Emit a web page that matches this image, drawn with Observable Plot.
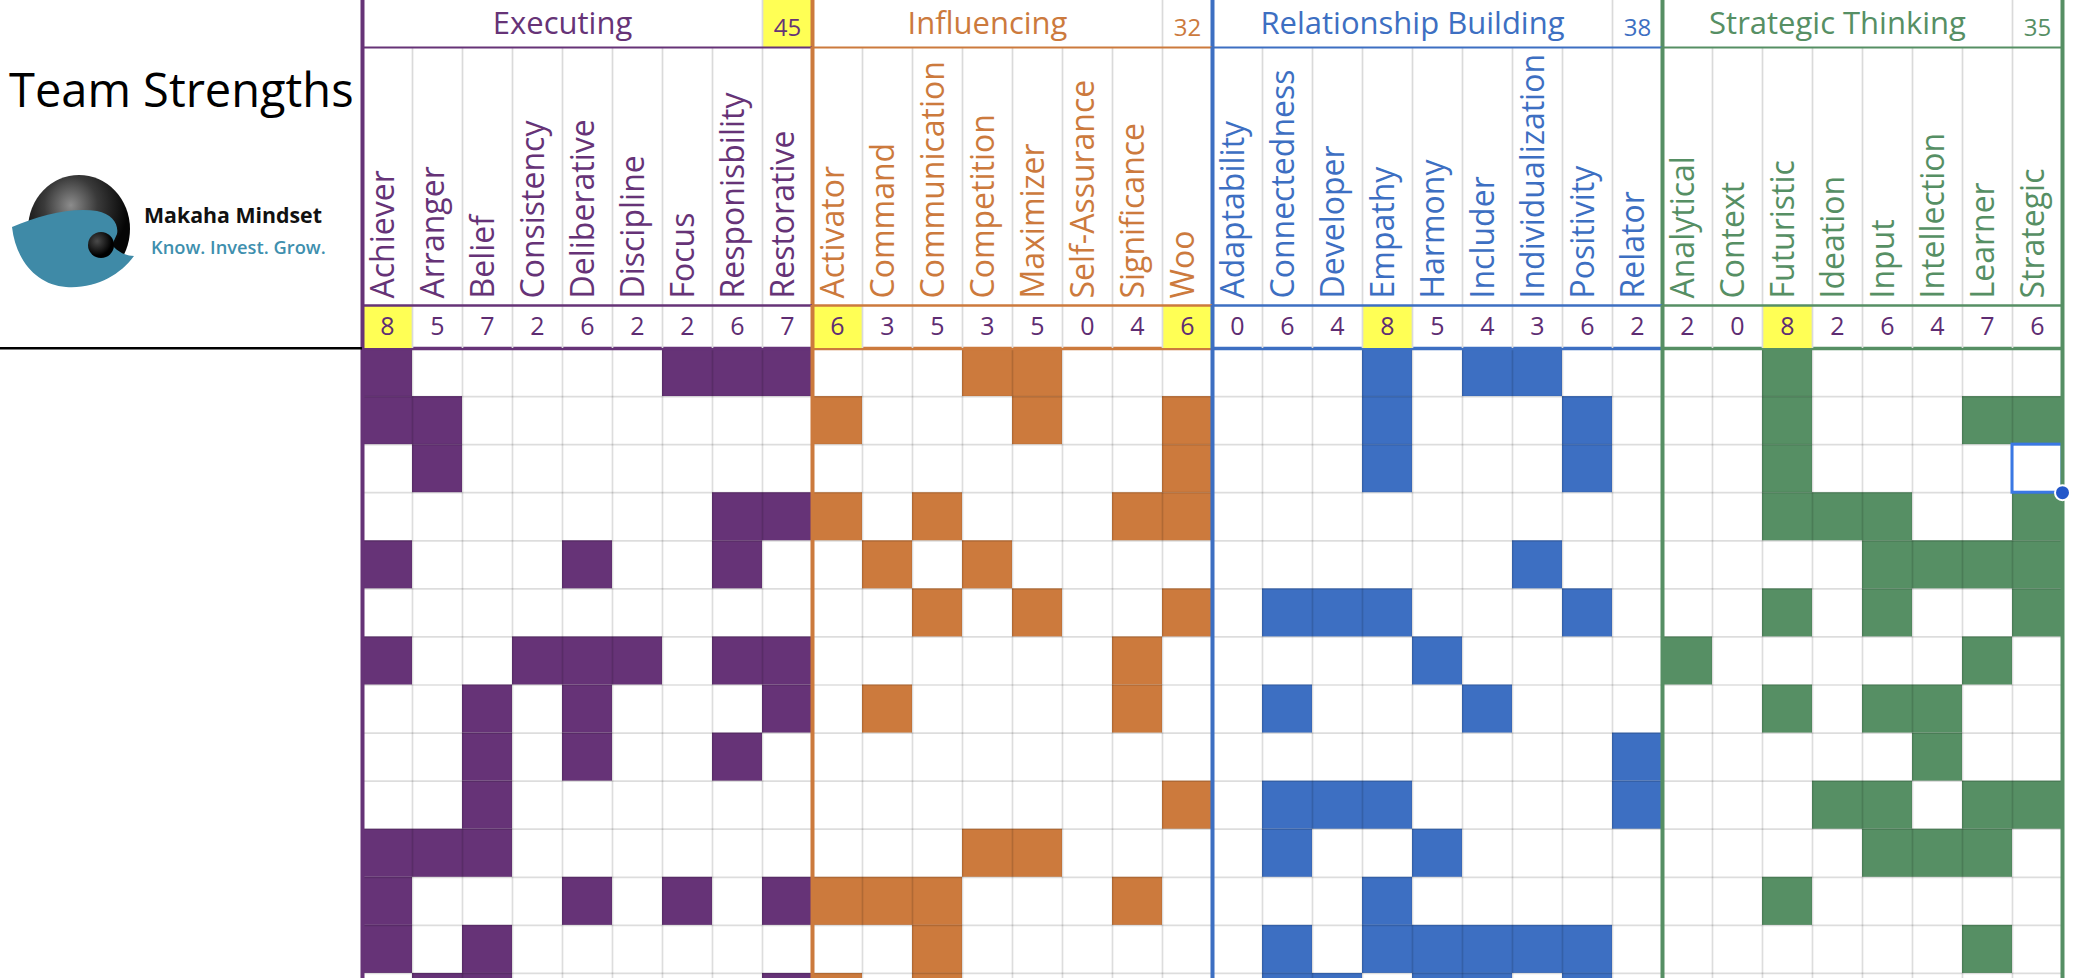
<!DOCTYPE html>
<html><head><meta charset="utf-8">
<script src="https://cdn.jsdelivr.net/npm/d3@7"></script>
<script src="https://cdn.jsdelivr.net/npm/@observablehq/plot@0.6"></script>
<style>
html,body{margin:0;padding:0;overflow:hidden;background:#fff;}
#page{position:relative;width:2074px;height:978px;overflow:hidden;background:#fff;font-family:"Open Sans",sans-serif;}
</style></head><body><div id="page"></div>
<script>
// ---------- data ----------
const groupNames = ["Executing", "Influencing", "Relationship Building", "Strategic Thinking"];
const groupColors = ["#663377", "#cc7a3d", "#3d6fc2", "#568f64"];
const groupTotals = [45, 32, 38, 35];

const executing = ["Achiever","Arranger","Belief","Consistency","Deliberative","Discipline","Focus","Responisbility","Restorative"];
const influencing = ["Activator","Command","Communication","Competition","Maximizer","Self-Assurance","Significance","Woo"];
const relationship = ["Adaptability","Connectedness","Developer","Empathy","Harmony","Includer","Individualization","Positivity","Relator"];
const strategic = ["Analytical","Context","Futuristic","Ideation","Input","Intellection","Learner","Strategic"];

const executingCounts = [8,5,7,2,6,2,2,6,7];
const influencingCounts = [6,3,5,3,5,0,4,6];
const relationshipCounts = [0,6,4,8,5,4,3,6,2];
const strategicCounts = [2,0,8,2,6,4,7,6];

// one string per team member (row), one character per strength: 1 = in top strengths
const executingRows = ["100000111","110000000","010000000","000000011","100010010","000000000","100111011","001010001","001010010","001000000","111000000","100010101","101000000","011000001"];
const influencingRows = ["00011000","10001001","00000001","10100011","01010000","00101001","00000010","01000010","00000000","00000001","00011000","11100010","00100000","10100000"];
const relationshipRows = ["000101100","000100010","000100010","000000000","000000100","011100010","000010000","010001000","000000001","011100001","010010000","000100000","010111110","011011010"];
const strategicRows = ["00100000","00100011","00100000","00111001","00001111","00101001","10000010","00101100","00000100","00011011","00001110","00100000","00000010","00000000"];

const selectedCell = {strength: "Strategic", row: 3};

// ---------- derived tables ----------
const groupLists = [executing, influencing, relationship, strategic];
const countLists = [executingCounts, influencingCounts, relationshipCounts, strategicCounts];
const rowLists = [executingRows, influencingRows, relationshipRows, strategicRows];
let acc = 0;
const groups = groupLists.map((names, g) => {
  const o = {name: groupNames[g], color: groupColors[g], start: acc, end: acc + names.length, total: groupTotals[g]};
  acc += names.length; return o;
});
const N = acc;
const columns = groups.flatMap((gr, g) => groupLists[g].map((name, k) => ({
  name, i: gr.start + k, color: gr.color, count: countLists[g][k], top: countLists[g][k] === d3.max(countLists[g])
})));
const cells = [];
groups.forEach((gr, g) => rowLists[g].forEach((s, r) => [...s].forEach((c, k) => {
  if (c === "1") cells.push({i: gr.start + k, row: r, color: gr.color});
})));
const nRows = executingRows.length;
const boundaries = groups.map(g => ({x: g.start, color: g.color})).concat([{x: N, color: groups[groups.length - 1].color}]);
const inner = d3.range(1, N);
const selIndex = columns.find(c => c.name === selectedCell.strength).i;

const page = document.getElementById("page");
const font = "'Open Sans', sans-serif";

function band(top, height, ydomain, marks) {
  const svg = Plot.plot({
    width: 2074, height, marginLeft: 362, marginRight: 12, marginTop: 0, marginBottom: 0,
    x: {domain: [0, N], axis: null},
    y: {domain: ydomain, axis: null, reverse: true},
    color: {type: "identity"},
    style: {background: "transparent", overflow: "visible", fontFamily: font},
    marks
  });
  svg.style.position = "absolute"; svg.style.left = "0px"; svg.style.top = top + "px";
  page.appendChild(svg);
}
const bounds = () => Plot.ruleX(boundaries, {x: "x", stroke: "color", strokeWidth: 4});

// data grid (drawn first, so header bands sit above)
band(348.2, 673, [0, nRows], [
  Plot.rect(cells, {x1: "i", x2: d => d.i + 1, y1: "row", y2: d => d.row + 1, fill: "color"}),
  Plot.ruleX(inner, {x: d => d, stroke: "#000", strokeOpacity: 0.135, strokeWidth: 1.7}),
  Plot.ruleY(d3.range(1, nRows + 1), {y: d => d, stroke: "#000", strokeOpacity: 0.135, strokeWidth: 1.7}),
  Plot.rect([selectedCell], {x1: selIndex, x2: selIndex + 1, y1: d => d.row - 1, y2: d => d.row, fill: "none", stroke: "#3a78e4", strokeWidth: 3}),
  Plot.ruleY(groups, {y: 0, x1: "start", x2: "end", stroke: "color", strokeWidth: 3.5}),
  bounds(),
  Plot.dot([selectedCell], {x: selIndex + 1, y: d => d.row, r: 7.5, fill: "#2357c9", stroke: "white", strokeWidth: 2})
]);

// group title row
band(0, 47, [0, 1], [
  Plot.rect(groups.filter(g => g.total === d3.max(groupTotals)), {x1: d => d.end - 1, x2: "end", y1: 0, y2: 1, fill: "#ffff55"}),
  Plot.ruleX(groups, {x: d => d.end - 1, stroke: "#dadada", strokeWidth: 1.7}),
  Plot.text(groups, {x: d => (d.start + d.end - 1) / 2, y: 0.5, text: "name", fill: "color", fontSize: 31, fontFamily: font}),
  Plot.text(groups, {x: d => d.end - 0.5, y: 0.5, text: d => String(d.total), fill: "color", fontSize: 24, dy: 4, fontFamily: font}),
  bounds()
]);

// strength names row
band(47, 258, [0, 1], [
  Plot.ruleX(inner, {x: d => d, stroke: "#dadada", strokeWidth: 1.7}),
  Plot.text(columns, {x: d => d.i + 0.5, frameAnchor: "bottom", text: "name", rotate: -90, textAnchor: "start",
    fill: "color", fontSize: 32, dy: -7, dx: 6, fontFamily: font}),
  Plot.ruleY(groups, {y: 0, x1: "start", x2: "end", stroke: "color", strokeWidth: 2}),
  bounds()
]);

// counts row
band(305, 43, [0, 1], [
  Plot.rect(columns.filter(d => d.top), {x1: "i", x2: d => d.i + 1, y1: 0, y2: 1, fill: "#ffff55"}),
  Plot.ruleX(inner, {x: d => d, stroke: "#dadada", strokeWidth: 1.7}),
  Plot.text(columns, {x: d => d.i + 0.5, y: 0.5, text: d => String(d.count), fill: "#5e2d73", fontSize: 25, fontFamily: font}),
  Plot.ruleY(groups, {y: 0, x1: "start", x2: "end", stroke: "color", strokeWidth: 2.5}),
  bounds()
]);

// ---------- left panel: title and logo ----------
const ns = "http://www.w3.org/2000/svg";
const left = document.createElementNS(ns, "svg");
left.setAttribute("width", 362); left.setAttribute("height", 352);
left.style.position = "absolute"; left.style.left = "0px"; left.style.top = "0px";
left.innerHTML = `
<defs>
  <radialGradient id="sph" cx="0.42" cy="0.28" r="0.75">
    <stop offset="0" stop-color="#8c8c8c"/><stop offset="0.35" stop-color="#3a3a3a"/><stop offset="0.75" stop-color="#050505"/>
  </radialGradient>
  <radialGradient id="eye" cx="0.35" cy="0.35" r="0.8">
    <stop offset="0" stop-color="#4a4a4a"/><stop offset="0.7" stop-color="#000"/>
  </radialGradient>
</defs>
<text x="9" y="107" font-family="Open Sans" font-size="47" fill="#000">Team Strengths</text>
<ellipse cx="79" cy="229" rx="51" ry="54" fill="url(#sph)"/>
<path d="M 12,227 C 40,215 72,207 97,211 C 112,214 119,224 117,234 L 112,245 C 118,252 126,256 134,256 C 120,275 96,289 66,287 C 38,285 16,262 12,227 Z" fill="#3f8aa7"/>
<circle cx="101" cy="245" r="13" fill="url(#eye)"/>
<text x="144" y="223" font-family="Open Sans" font-weight="700" font-size="21.3" fill="#111">Makaha Mindset</text>
<text x="151" y="254" font-family="Open Sans" font-weight="600" font-size="18.3" fill="#3e8fae">Know. Invest. Grow.</text>
<line x1="0" x2="362" y1="348.3" y2="348.3" stroke="#000" stroke-width="2.6"/>
`;
page.appendChild(left);
</script></body></html>
